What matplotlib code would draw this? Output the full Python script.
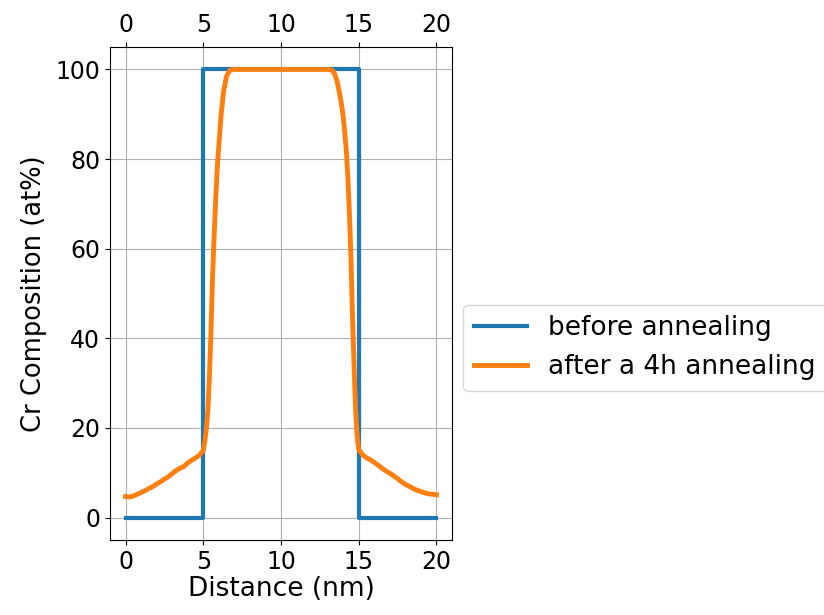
import matplotlib
matplotlib.use('Agg')
import matplotlib.pyplot as plt

# Cr profile before annealing (ideal step)
before_x = [0, 5, 5, 15, 15, 20]
before_y = [0, 0, 100, 100, 0, 0]

# Cr profile after a 4h annealing
after_x = [0.0, 0.25, 0.5, 0.75, 1.0, 1.25, 1.5, 1.75, 2.0, 2.25, 2.5, 2.75,
           3.0, 3.25, 3.5, 3.75, 4.0, 4.25, 4.5, 4.75, 5.0, 5.1, 5.2, 5.3,
           5.4, 5.5, 5.6, 5.7, 5.8, 5.9, 6.0, 6.15, 6.3, 6.5, 6.7, 7.0,
           8.0, 9.0, 10.0, 11.0, 12.0, 13.0, 13.3, 13.45, 13.6, 13.75, 13.9,
           14.0, 14.1, 14.2, 14.3, 14.4, 14.5, 14.6, 14.7, 14.8, 14.9, 15.0,
           15.25, 15.5, 15.75, 16.0, 16.25, 16.5, 16.75, 17.0, 17.25, 17.5,
           17.75, 18.0, 18.25, 18.5, 18.75, 19.0, 19.25, 19.5, 19.75, 20.0]
after_y = [4.7, 4.6, 4.8, 5.2, 5.6, 6.0, 6.5, 6.9, 7.5, 8.0, 8.6, 9.1,
           9.8, 10.5, 11.0, 11.4, 12.2, 12.8, 13.3, 13.9, 15.0, 17.0, 20.0, 24.0,
           32.0, 42.0, 54.0, 63.0, 71.0, 78.0, 83.0, 90.0, 95.0, 98.5, 99.8, 100.0,
           100.0, 100.0, 100.0, 100.0, 100.0, 100.0, 99.8, 99.0, 97.5, 95.0, 92.0,
           89.5, 86.0, 82.0, 76.0, 68.0, 58.0, 45.0, 34.0, 24.0, 18.0, 15.2,
           14.0, 13.3, 12.9, 12.3, 11.7, 11.0, 10.4, 9.9, 9.3, 8.7,
           8.0, 7.4, 7.0, 6.5, 6.1, 5.8, 5.5, 5.3, 5.2, 5.1]

fig = plt.figure(figsize=(8.24, 6.15), dpi=100)
ax = fig.add_axes([110 / 824, 75 / 615, 342 / 824, 493 / 615])

ax.plot(before_x, before_y, color='#1f77b4', linewidth=3, label='before annealing')
ax.plot(after_x, after_y, color='#ff7f0e', linewidth=3.5, label='after a 4h annealing')

ax.set_xlabel('Distance (nm)', fontsize=19, labelpad=2)
ax.set_ylabel('Cr Composition (at%)', fontsize=18.5, labelpad=6)
ax.set_xticks([0, 5, 10, 15, 20])
ax.tick_params(labelsize=17, top=True, labeltop=True)
ax.grid(True)

ax.legend(loc='center left', bbox_to_anchor=(0.995, 0.39), fontsize=19)

fig.savefig('out.png', dpi=100)
